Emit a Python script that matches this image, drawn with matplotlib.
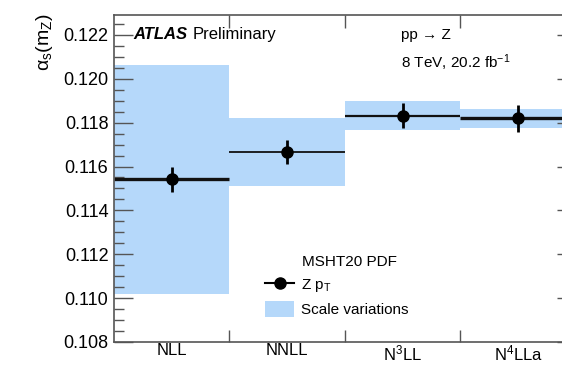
import numpy as np
import matplotlib.pyplot as plt
from matplotlib.patches import Patch
from matplotlib.lines import Line2D

plt.rcParams['font.family'] = ['Liberation Sans', 'DejaVu Sans']
plt.rcParams['mathtext.default'] = 'regular'

# Data
orders = ['NLL', 'NNLL', 'N$^{3}$LL', 'N$^{4}$LLa']
alpha_s = [0.11541, 0.11665, 0.11832, 0.11820]
alpha_err = [0.00055, 0.00055, 0.00057, 0.00062]
scale_lo = [0.11021, 0.11510, 0.11767, 0.11774]
scale_hi = [0.12064, 0.11820, 0.11897, 0.11862]

line_widths = [2.4, 1.3, 1.6, 2.4]
band_color = '#b5d8fa'

fig = plt.figure(figsize=(5.62, 3.66), dpi=100)
ax = fig.add_axes([0.2028, 0.0656, 0.822, 0.893])

x = np.arange(len(orders))
lo = np.array(scale_lo)
hi = np.array(scale_hi)
ax.bar(x, hi - lo, bottom=lo, width=1.0, color=band_color, linewidth=0, zorder=1)
for xi, v, lw in zip(x, alpha_s, line_widths):
    ax.hlines(v, xi - 0.5, xi + 0.5, color='#111111', linewidth=lw, zorder=2)
ax.errorbar(x, alpha_s, yerr=alpha_err, fmt='o', color='black', markersize=8,
            elinewidth=2, capsize=0, zorder=3)

ax.set_xlim(-0.5, len(orders) - 0.5)
ax.set_ylim(0.108, 0.1229)

# bin boundaries as ticks, names centred in the bins
ax.set_xticks(x[:-1] + 0.5)
ax.set_xticklabels([])
ax.set_xticks(x, minor=True)
ax.set_xticklabels(orders, minor=True, fontsize=12)
ax.tick_params(axis='x', which='major', direction='in', length=9, width=1,
               top=True, color='#555555')
ax.tick_params(axis='x', which='minor', length=0, pad=1)

ax.set_yticks(np.arange(0.108, 0.1225, 0.002))
ax.set_yticklabels([f'{t:.3f}' for t in np.arange(0.108, 0.1225, 0.002)], fontsize=13)
ax.set_yticks(np.arange(0.108, 0.1229, 0.0005), minor=True)
ax.tick_params(axis='y', which='major', direction='in', length=14, width=1,
               right=True, color='#555555', pad=4)
ax.tick_params(axis='y', which='minor', direction='in', length=7, width=1,
               right=True, color='#555555')

for s in ax.spines.values():
    s.set_color('#555555')
    s.set_linewidth(1.2)

fig.text(0.080, 0.965, 'α$_{s}$(m$_{Z}$)', rotation=90, ha='center', va='top', fontsize=14)

fig.text(0.237, 0.907, 'ATLAS', fontsize=12, fontweight='bold', fontstyle='italic',
         va='center')
fig.text(0.343, 0.907, 'Preliminary', fontsize=12, va='center')
fig.text(0.714, 0.905, 'pp → Z', fontsize=11, va='center')
fig.text(0.714, 0.830, '8 TeV, 20.2 fb$^{-1}$', fontsize=11, va='center')

handles = [Line2D([0], [0], color='black', marker='o', markersize=8, linewidth=1.5),
           Patch(facecolor=band_color, edgecolor='none')]
leg = ax.legend(handles, ['Z p$_{T}$', 'Scale variations'], title='MSHT20 PDF',
                loc='upper left', bbox_to_anchor=(0.458, 0.323),
                bbox_transform=fig.transFigure, frameon=False, fontsize=11,
                title_fontsize=11, handlelength=1.9, handleheight=1.2,
                handletextpad=0.45, labelspacing=0.45, borderpad=0,
                alignment='left')
leg.get_title().set_position((37, 0))

fig.savefig('out.png', dpi=100)
